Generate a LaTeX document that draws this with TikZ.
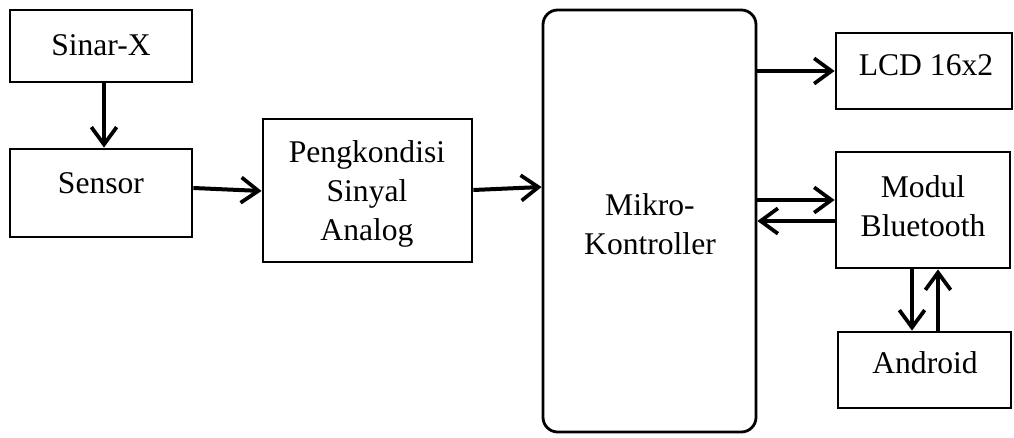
\documentclass[tikz,border=0pt]{standalone}
\usepackage{fontspec}
\setmainfont{Liberation Serif}
\usetikzlibrary{arrows.meta,calc}
\begin{document}
\begin{tikzpicture}[x=0.75pt,y=-0.75pt,
  box/.style={draw, line width=2.1pt, inner sep=0pt},
  lbl/.style={font=\fontsize{23.7}{29.5}\selectfont, align=center, inner sep=0pt},
  arr/.style={line width=3pt, -{Straight Barb[length=13pt,width=19pt,line width=2.8pt]}}]
\useasboundingbox (0,0) rectangle (1014,438);
% boxes
\node[box, minimum width=182*0.75pt, minimum height=72*0.75pt] (sx) at (101,46) {};
\node[box, minimum width=182*0.75pt, minimum height=88*0.75pt] (sn) at (101,193) {};
\node[box, minimum width=209*0.75pt, minimum height=143*0.75pt] (pk) at (367.5,190.5) {};
\node[box, rounded corners=11pt, minimum width=213*0.75pt, minimum height=422*0.75pt] (mk) at (649.5,221) {};
\node[box, minimum width=176*0.75pt, minimum height=76*0.75pt] (lcd) at (924,71) {};
\node[box, minimum width=174*0.75pt, minimum height=116*0.75pt] (bt) at (923,210) {};
\node[box, minimum width=173*0.75pt, minimum height=76*0.75pt] (an) at (924.5,370) {};
% texts
\node[lbl] (tsx) at (101,45) {Sinar-X};
\node[lbl] (tsn) at (101,183) {Sensor};
\node[lbl] (tpk) at (367,194) {Pengkondisi\\Sinyal\\Analog};
\node[lbl] (tmk) at (650,224) {Mikro-\\Kontroller};
\node[lbl] (tlcd) at (926,65) {LCD 16x2};
\node[lbl] (tbt) at (923,206) {Modul\\Bluetooth};
\node[lbl] (tan) at (925,363) {Android};
% arrows
\draw[arr] ($(sx.south)+(3,0)$) -- ($(sn.north)+(3,0)$);
\draw[arr] ($(sn.east)+(0,-5)$) -- ($(pk.west)+(0,0.5)$);
\draw[arr] ($(pk.east)+(0,-0.5)$) -- ($(mk.west)+(0,-34)$);
\draw[arr] (mk.east |- lcd.west) -- (lcd.west);
\draw[arr] ($(mk.east |- bt.west)+(0,-10)$) -- ($(bt.west)+(0,-10)$);
\draw[arr] ($(bt.west)+(0,11)$) -- ($(mk.east |- bt.west)+(0,11)$);
\draw[arr] ($(bt.south)+(-11,0)$) -- ($(an.north)+(-12.5,0)$);
\draw[arr] ($(an.north)+(13.5,0)$) -- ($(bt.south)+(15,0)$);
\end{tikzpicture}
\end{document}
